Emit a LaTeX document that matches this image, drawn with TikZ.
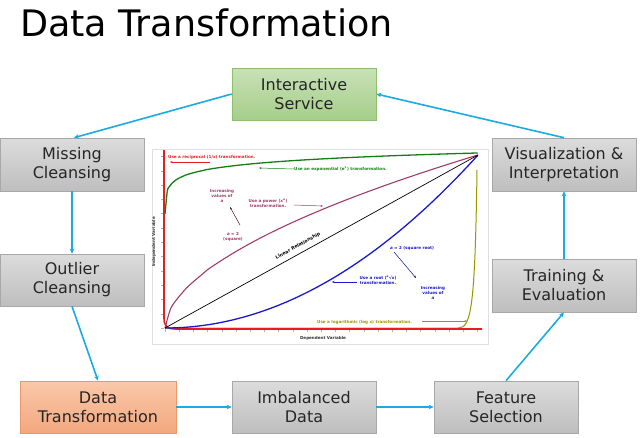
\documentclass[tikz,border=0pt]{standalone}
\usepackage{fontspec}
\setmainfont{DejaVu Sans}
\usetikzlibrary{arrows.meta,calc}
\definecolor{flow}{RGB}{28,170,226}
\definecolor{greytop}{RGB}{220,220,220}
\definecolor{greybot}{RGB}{190,190,190}
\definecolor{greyedge}{RGB}{168,168,168}
\definecolor{grntop}{RGB}{200,225,182}
\definecolor{grnbot}{RGB}{166,206,138}
\definecolor{grnedge}{RGB}{140,190,110}
\definecolor{orgtop}{RGB}{250,200,170}
\definecolor{orgbot}{RGB}{243,168,126}
\definecolor{orgedge}{RGB}{236,150,110}
\definecolor{cred}{RGB}{230,30,30}
\definecolor{cgreen}{RGB}{20,128,20}
\definecolor{cpurple}{RGB}{160,60,105}
\definecolor{cblue}{RGB}{25,25,210}
\definecolor{colive}{RGB}{155,150,0}
\tikzset{
  box/.style={draw=greyedge, line width=0.6pt, top color=greytop, bottom color=greybot,
    minimum width=144pt, minimum height=52pt, align=center, inner sep=0pt,
    font=\fontsize{16}{19}\selectfont, text=black!85},
  flowarrow/.style={draw=flow, line width=1.6pt, -{Stealth[length=5pt,width=4.5pt]}},
  tiny/.style={font=\fontsize{4.1}{5}\selectfont\bfseries, align=center, inner sep=0pt},
  thinarrow/.style={line width=0.5pt, -{Stealth[length=2.5pt,width=2pt]}}
}
\begin{document}
\begin{tikzpicture}[x=1pt,y=-1pt]
\useasboundingbox (0,0) rectangle (640,437);
\fill[white] (0,0) rectangle (640,437);

% title
\node[anchor=base west, inner sep=0pt, font=\fontsize{36.5}{40}\selectfont] (title) at (20,36) {Data Transformation};

% boxes
\node[box, draw=grnedge, top color=grntop, bottom color=grnbot] (inter) at (304,94) {Interactive\\Service};
\node[box, minimum height=53pt] (miss) at (72,164.5) {Missing\\Cleansing};
\node[box] (out) at (72,280) {Outlier\\Cleansing};
\node[box, minimum width=156pt, draw=orgedge, top color=orgtop, bottom color=orgbot] (dt) at (98,407) {Data\\Transformation};
\node[box] (imb) at (304,407) {Imbalanced\\Data};
\node[box] (feat) at (506,407) {Feature\\Selection};
\node[box, minimum height=53pt] (train) at (564,285.5) {Training \&\\Evaluation};
\node[box, minimum height=53pt] (vis) at (564,164.5) {Visualization \&\\Interpretation};

% connectors
\draw[flowarrow] (inter.west) -- ($(miss.north)+(2,0)$);
\draw[flowarrow] (miss.south) -- (out.north);
\draw[flowarrow] (out.south) -- (dt.north);
\draw[flowarrow] (dt.east) -- (imb.west);
\draw[flowarrow] (imb.east) -- (feat.west);
\draw[flowarrow] (feat.north) -- (train.south);
\draw[flowarrow] (train.north) -- (vis.south);
\draw[flowarrow] (vis.north) -- (inter.east);

% chart
\coordinate (chartnw) at (152,149);
\coordinate (chartse) at (488,344);
\draw[black!12, line width=0.5pt] (chartnw) rectangle (chartse);
% ticks
\foreach \i in {0,...,22} {
  \draw[black!30, line width=0.3pt] ({165+14.2*\i},329) -- ({165+14.2*\i},332);
}
\foreach \i in {0,...,12} {
  \draw[black!30, line width=0.3pt] (161,{328-14.3*\i}) -- (164,{328-14.3*\i});
}
% curves
\draw[colive, line width=1pt] (165,328) -- (458,328) .. controls (471,328) and (475,310) .. (477,170);
\draw[cred, line width=1.6pt] (164,150) -- (164,318) .. controls (164,326) and (167,329) .. (176,329) -- (482,329);
\draw[cgreen, line width=1.3pt] plot[domain=0.0002:1, samples=140, smooth] ({165+313*\x},{328-175*\x^0.05});
\draw[cpurple, line width=1.1pt] plot[domain=0:1, samples=60, smooth] ({165+313*\x},{328-173*\x^0.55});
\draw[cblue, line width=1.3pt] plot[domain=0:1, samples=60, smooth] ({165+313*\x},{328-173*\x^2});
\draw[black, line width=0.7pt] (165,328) -- (478,155);

% chart labels
\node[tiny, text=cred, anchor=west] (lrec) at (168,157) {Use a reciprocal (1/x) transformation.};
\coordinate (arec1) at (210,162); \coordinate (arec2) at (170,162);
\draw[thinarrow, cred] (arec1) -- (arec2);
\node[tiny, text=cgreen, anchor=west] (lexp) at (294,169) {Use an exponential (e\textsuperscript{x}) transformation.};
\coordinate (aexp) at (259,168);
\draw[thinarrow, cgreen] (lexp.west) -- (aexp);
\node[tiny, text=cpurple] (linc1) at (222,196) {Increasing\\values of\\\textit{a}};
\coordinate (ainc1a) at (240,225); \coordinate (ainc1b) at (230,207);
\draw[thinarrow, black!60!cpurple] (ainc1a) -- (ainc1b);
\node[tiny, text=cpurple] (lsq) at (233,237) {\textit{a} = 2\\(square)};
\node[tiny, text=cpurple] (lpow) at (268,203.5) {Use a power (x\textsuperscript{\textit{a}})\\transformation.};
\coordinate (apow) at (323,206);
\draw[thinarrow, cpurple] (294,205) -- (apow);
\node[tiny, text=black, rotate=29, font=\fontsize{4.6}{5.5}\selectfont\bfseries] (llin) at (298,246) {Linear Relationship};
\node[tiny, text=cblue] (lsqr) at (412,248) {\textit{a} = 2 (square root)};
\coordinate (asqr) at (416,278);
\draw[thinarrow, cblue!70!black] (394,252) -- (asqr);
\node[tiny, text=cblue] (linc2) at (433,293) {Increasing\\values of\\\textit{a}};
\node[tiny, text=cblue] (lroot) at (378,280) {Use a root (\textsuperscript{\textit{a}}√x)\\transformation.};
\coordinate (aroot) at (332,282);
\draw[thinarrow, cblue] (357,282) -- (aroot);
\node[tiny, text=colive, anchor=west] (llog) at (317,322) {Use a logarithmic (log x) transformation.};
\coordinate (alog) at (467,321);
\draw[thinarrow, colive] (422,321) -- (alog);
\node[tiny, text=black!80] (ldep) at (323,338.5) {Dependent Variable};
\node[tiny, text=black!80, rotate=90] (lind) at (154,242) {Independent Variable};
\end{tikzpicture}
\end{document}
